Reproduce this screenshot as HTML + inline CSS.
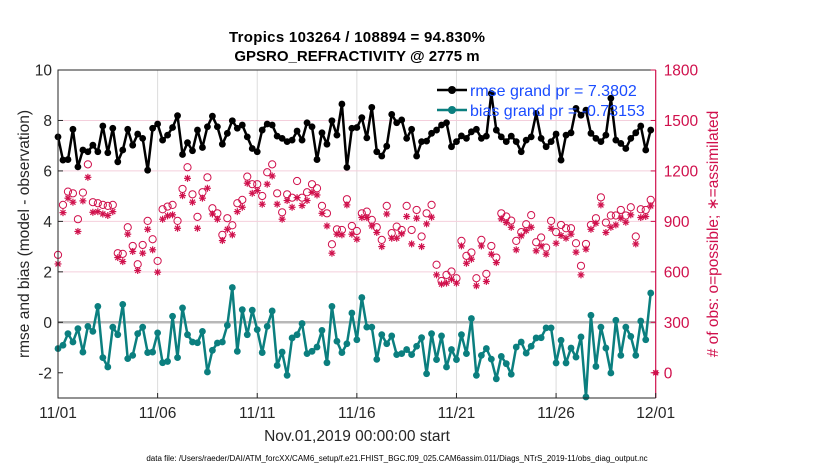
<!DOCTYPE html>
<html><head><meta charset="utf-8"><style>
body{margin:0;background:#fff;}
svg{display:block;font-family:"Liberation Sans",sans-serif;}
</style></head><body>
<svg id="chart" width="830" height="470" viewBox="0 0 830 470">
<rect width="830" height="470" fill="#fff"/>
<g id="grid"></g>
<g id="marks"></g>
<g id="axes"></g>
<text x="357" y="42" text-anchor="middle" font-size="15" font-weight="bold" textLength="256">Tropics 103264 / 108894 = 94.830%</text>
<text x="357" y="61" text-anchor="middle" font-size="15" font-weight="bold">GPSRO_REFRACTIVITY @ 2775 m</text>
<text transform="translate(29,234) rotate(-90)" text-anchor="middle" font-size="15.5" fill="#262626">rmse and bias (model - observation)</text>
<text transform="translate(718,234) rotate(-90)" text-anchor="middle" font-size="15.5" fill="#d0104c"># of obs: o=possible; ∗=assimilated</text>
<text x="357" y="441" text-anchor="middle" font-size="15.5" fill="#262626">Nov.01,2019 00:00:00 start</text>
<text x="397" y="461" text-anchor="middle" font-size="8" fill="#000">data file: /Users/raeder/DAI/ATM_forcXX/CAM6_setup/f.e21.FHIST_BGC.f09_025.CAM6assim.011/Diags_NTrS_2019-11/obs_diag_output.nc</text>
<g>
<line x1="437" y1="90" x2="467" y2="90" stroke="#000" stroke-width="2.5"/>
<circle cx="452" cy="90" r="4" fill="#000"/>
<text x="470" y="96" font-size="16" fill="#1a4cff">rmse grand pr = 7.3802</text>
<line x1="437" y1="110" x2="467" y2="110" stroke="#0b7f7f" stroke-width="2.5"/>
<circle cx="452" cy="110" r="4" fill="#0b7f7f"/>
<text x="470" y="116" font-size="16" fill="#1a4cff">bias grand pr = -0.73153</text>
</g>
</svg>
<script>
const xTickLabels=["11/01","11/06","11/11","11/16","11/21","11/26","12/01"];
const leftTicks=[10,8,6,4,2,0,-2];
const rightTicks=[1800,1500,1200,900,600,300,0];
const rmse=[7.35,6.43,6.45,7.65,6.16,6.83,6.76,7.02,6.76,7.78,6.72,7.69,6.36,6.83,7.65,7.02,7.46,7.29,6.03,7.69,7.86,7.22,7.42,7.72,8.19,6.65,7.12,6.8,7.62,6.93,7.75,8.17,7.75,7.06,7.49,7.99,7.69,7.82,7.35,6.89,6.76,7.62,7.86,7.82,7.38,7.29,7.16,7.22,7.58,7.22,7.91,7.75,6.45,7.51,7.06,7.99,7.42,8.65,6.14,7.69,7.72,8.11,7.31,8.52,6.76,6.59,6.98,8.24,7.91,8.02,7.29,7.65,6.59,7.16,7.18,7.49,7.62,7.82,7.91,6.96,7.16,7.39,7.29,7.55,7.65,7.29,7.38,9.07,7.62,7.35,7.16,7.38,7.16,6.76,7.22,7.35,8.28,7.29,6.96,7.16,7.46,6.43,7.42,7.51,8.48,8.21,8.41,7.49,7.29,7.16,7.42,8.88,7.22,7.09,6.89,7.29,7.51,7.78,6.83,7.62];
const bias=[-1.04,-0.91,-0.45,-0.78,-0.25,-1.18,-0.16,-0.36,0.63,-1.40,-1.77,-0.19,-0.49,0.71,-1.44,-1.31,-0.45,-0.19,-1.20,-1.18,-0.42,-1.60,-1.55,0.24,-1.40,0.57,-0.49,-0.78,-0.81,-0.36,-1.97,-1.11,-0.82,-0.78,-0.12,1.38,-1.15,0.50,-0.49,0.48,-0.29,-1.20,-0.16,0.45,-1.71,-1.18,-2.10,-0.62,-0.49,-0.05,-1.24,-1.15,-0.98,-0.32,-1.60,0.63,-0.75,-1.20,-0.85,0.37,-0.69,0.98,-0.19,-0.19,-1.47,-0.49,-0.85,-0.54,-1.28,-1.24,-1.08,-1.28,-0.95,-0.61,-2.04,-0.45,-1.48,-0.54,-1.77,-1.08,-1.48,-0.49,-1.24,0.15,-2.10,-1.31,-1.04,-1.46,-2.24,-1.35,-1.64,-2.06,-0.98,-0.78,-1.22,-0.95,-0.62,-0.61,-0.22,-0.22,-1.61,-0.71,-1.61,-1.02,-1.38,-0.58,-2.96,0.28,-1.75,-0.19,-1.02,-2.01,0.08,-1.31,-0.19,-0.56,-1.31,0.05,-0.69,1.16];
const obsPossible=[701,998,1077,1067,913,1071,1239,1014,1008,998,992,998,711,707,865,754,645,760,903,794,665,972,988,998,903,1093,1222,1061,927,1073,1162,978,948,820,919,877,1008,1028,1166,1121,1121,1051,1192,1239,1067,954,1061,1041,1140,1041,1073,1121,1097,992,948,764,853,849,1032,873,843,948,958,909,865,790,992,830,869,849,992,849,968,810,948,998,642,546,582,602,562,784,695,715,562,790,588,754,685,948,929,905,784,836,883,937,776,804,744,903,836,879,859,859,770,636,766,879,919,1043,893,935,935,968,935,984,810,972,968,1028];
const obsAssim=[647,952,1038,1014,840,1022,1162,954,958,944,935,958,685,661,824,721,608,711,853,731,598,913,933,939,859,1053,1156,1014,859,1038,1097,944,913,786,853,820,958,984,1127,1067,1083,1002,1121,1170,1002,913,1024,984,1041,994,1024,1073,1057,948,873,711,824,820,998,824,794,923,923,873,834,750,944,800,800,826,929,766,919,750,885,925,582,527,533,556,533,754,651,675,517,754,543,705,655,915,893,865,731,814,845,865,725,754,705,859,770,816,800,824,717,582,735,853,889,998,834,865,879,919,895,939,766,923,929,992];
const finalObs=[0];

const NS="http://www.w3.org/2000/svg";
const X0=58,X1=655.7,Y0=70,Y1=398;
function xs(day){return X0+(X1-X0)*day/30;}
function yl(v){return Y0+(10-v)*(Y1-Y0)/13;}
function yr(v){return yl(-2+v/150);}
function mk(parent,tag,attrs){const e=document.createElementNS(NS,tag);for(const k in attrs)e.setAttribute(k,attrs[k]);parent.appendChild(e);return e;}
const grid=document.getElementById('grid'),marks=document.getElementById('marks'),axes=document.getElementById('axes');

xTickLabels.forEach((t,i)=>{
  if(i>0&&i<xTickLabels.length-1){
    const l=mk(grid,'line',{x1:xs(i*5),x2:xs(i*5),y1:Y0,y2:Y1,stroke:'#dcdcdc','stroke-width':1});
    
    
  }
});
rightTicks.forEach(v=>{
  if(v>0&&v<1800){
    const l=mk(grid,'line',{x1:X0,x2:X1,y1:yr(v),y2:yr(v),stroke:'#f4cfdc','stroke-width':1});
    
    
  }
});
const z=mk(grid,'line',{x1:X0,x2:X1,y1:yl(0),y2:yl(0),stroke:'#b8b8b8','stroke-width':2.5});



obsPossible.forEach((v,k)=>{
  const c=mk(marks,'circle',{cx:xs(k*0.25),cy:yr(v),r:3.6,fill:'none',stroke:'#d0104c','stroke-width':1});
  
  
});
function star(cx,cy){
  const g=mk(marks,'g',{stroke:'#d0104c','stroke-width':1.2});
  
  
  const r=3.5;
  mk(g,'line',{x1:cx-r,y1:cy,x2:cx+r,y2:cy});
  mk(g,'line',{x1:cx,y1:cy-r,x2:cx,y2:cy+r});
  mk(g,'line',{x1:cx-2.5,y1:cy-2.5,x2:cx+2.5,y2:cy+2.5});
  mk(g,'line',{x1:cx-2.5,y1:cy+2.5,x2:cx+2.5,y2:cy-2.5});
}
obsAssim.forEach((v,k)=>star(xs(k*0.25),yr(v)));
finalObs.forEach(v=>{star(xs(30),yr(v));const c=mk(marks,'circle',{cx:xs(30),cy:yr(v),r:2.5,fill:'#d0104c'});});

function series(arr,color,name){
  const pts=arr.map((v,k)=>xs(k*0.25).toFixed(1)+','+yl(v).toFixed(1)).join(' ');
  const p=mk(marks,'polyline',{points:pts,fill:'none',stroke:color,'stroke-width':2.5,'stroke-linejoin':'round'});
  
  
  arr.forEach((v,k)=>{
    const c=mk(marks,'circle',{cx:xs(k*0.25),cy:yl(v),r:3.4,fill:color});
    
    
  });
}
series(bias,'#0b7f7f','bias');
series(rmse,'#000000','rmse');

const lb=mk(axes,'path',{d:`M${X1},${Y0} L${X0},${Y0} L${X0},${Y1} L${X1},${Y1}`,fill:'none',stroke:'#262626','stroke-width':1});


const ra=mk(axes,'line',{x1:X1,x2:X1,y1:Y0,y2:Y1,stroke:'#d0104c','stroke-width':1.2});



leftTicks.forEach(v=>{
  mk(axes,'line',{x1:X0,x2:X0+5,y1:yl(v),y2:yl(v),stroke:'#262626'});
  const t=mk(axes,'text',{x:X0-6,y:yl(v)+5.5,'text-anchor':'end','font-size':15.5,fill:'#262626'});
  t.textContent=v;
  
  
});
rightTicks.forEach(v=>{
  mk(axes,'line',{x1:X1-5,x2:X1,y1:yr(v),y2:yr(v),stroke:'#d0104c'});
  const t=mk(axes,'text',{x:X1+8,y:yr(v)+5.5,'font-size':15.5,fill:'#d0104c'});
  t.textContent=v;
  
  
});
xTickLabels.forEach((s,i)=>{
  mk(axes,'line',{x1:xs(i*5),x2:xs(i*5),y1:Y1,y2:Y1-5,stroke:'#262626'});
  const t=mk(axes,'text',{x:xs(i*5),y:418,'text-anchor':'middle','font-size':15.5,fill:'#262626'});
  t.textContent=s;
  
  
});
</script>
</body></html>
